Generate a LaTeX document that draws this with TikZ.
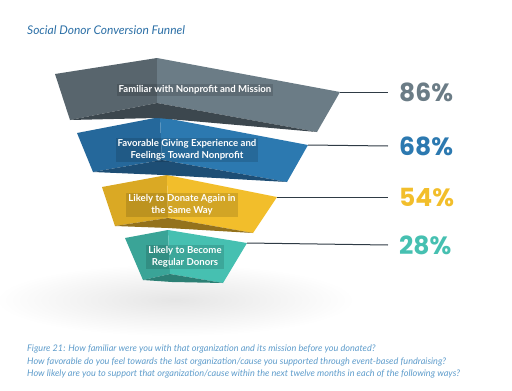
\documentclass[tikz,border=0pt]{standalone}
\usepackage{fontspec}
\setmainfont{Lato}
\newfontfamily\pctfont{Poppins}
\usetikzlibrary{positioning}
\definecolor{grayR}{HTML}{6B7C86}
\definecolor{grayL}{HTML}{58656D}
\definecolor{grayD}{HTML}{3C474E}
\definecolor{blueR}{HTML}{2C79B0}
\definecolor{blueL}{HTML}{25689B}
\definecolor{blueD}{HTML}{1D4E75}
\definecolor{yellR}{HTML}{F2BE2B}
\definecolor{yellL}{HTML}{DAA924}
\definecolor{yellD}{HTML}{94721C}
\definecolor{tealR}{HTML}{46C0B1}
\definecolor{tealL}{HTML}{3AA497}
\definecolor{tealD}{HTML}{2C8075}
\definecolor{titleblue}{HTML}{2B6FA6}
\definecolor{capblue}{HTML}{5E9CCB}
\definecolor{leadcol}{HTML}{2F3B45}
\tikzstyle{facetext} = [text=white,font=\bfseries\fontsize{9.6}{12}\selectfont,align=center,fill=black,fill opacity=0.13,text opacity=1,inner sep=2pt]
\tikzstyle{pct} = [font=\pctfont\bfseries\fontsize{25}{25}\selectfont,anchor=west,inner sep=0pt]
\tikzstyle{leader} = [line width=1pt,draw=leadcol]

\begin{document}
\begin{tikzpicture}[x=1pt,y=-1pt]
	\useasboundingbox (0,0) rectangle (512,391);
	% shadow under the funnel
	\shade[inner color=black!10,outer color=white] (175,300) ellipse (180 and 36);
	% corners of the four layers
	\coordinate (d_lt) at (125,238); \coordinate (d_p) at (168,230); \coordinate (d_rt) at (247,243);
	\coordinate (d_lb) at (143,280); \coordinate (d_c) at (170,274); \coordinate (d_rb) at (223,283); \coordinate (d_b) at (172,282);
	\coordinate (c_lt) at (102,187); \coordinate (c_p) at (167,175); \coordinate (c_rt) at (277,197);
	\coordinate (c_lb) at (115,226); \coordinate (c_c) at (168,218); \coordinate (c_rb) at (253,233); \coordinate (c_b) at (168,228);
	\coordinate (b_lt) at (77,133); \coordinate (b_p) at (160,117); \coordinate (b_rt) at (308,145);
	\coordinate (b_lb) at (93,172); \coordinate (b_c) at (162,160); \coordinate (b_rb) at (287,182); \coordinate (b_b) at (163,175);
	\coordinate (a_lt) at (55,74); \coordinate (a_p) at (157,58); \coordinate (a_rt) at (340,92);
	\coordinate (a_lb) at (70,120); \coordinate (a_c) at (157,103); \coordinate (a_rb) at (317,132); \coordinate (a_b) at (157,118);
	% layers, bottom one first
	\fill[tealL] (d_lt) -- (d_p) -- (d_c) -- (d_lb) -- cycle;
	\fill[tealR] (d_p) -- (d_rt) -- (d_rb) -- (d_c) -- cycle;
	\fill[tealD] (d_lb) -- (d_c) -- (d_rb) -- (d_b) -- cycle;
	\fill[yellL] (c_lt) -- (c_p) -- (c_c) -- (c_lb) -- cycle;
	\fill[yellR] (c_p) -- (c_rt) -- (c_rb) -- (c_c) -- cycle;
	\fill[yellD] (c_lb) -- (c_c) -- (c_rb) -- (c_b) -- cycle;
	\fill[blueL] (b_lt) -- (b_p) -- (b_c) -- (b_lb) -- cycle;
	\fill[blueR] (b_p) -- (b_rt) -- (b_rb) -- (b_c) -- cycle;
	\fill[blueD] (b_lb) -- (b_c) -- (b_rb) -- (b_b) -- cycle;
	\fill[grayL] (a_lt) -- (a_p) -- (a_c) -- (a_lb) -- cycle;
	\fill[grayR] (a_p) -- (a_rt) -- (a_rb) -- (a_c) -- cycle;
	\fill[grayD] (a_lb) -- (a_c) -- (a_rb) -- (a_b) -- cycle;
	% texts on the layers
	\node[facetext] (t_1) at (195,90) {Familiar with Nonprofit and Mission};
	\node[facetext] (t_2) at (187,150) {Favorable Giving Experience and\\Feelings Toward Nonprofit};
	\node[facetext] (t_3) at (182,205) {Likely to Donate Again in\\the Same Way};
	\node[facetext] (t_4) at (185,257) {Likely to Become\\Regular Donors};
	% percentages
	\node[pct,text=grayR] (p_1) at (399,92) {86\%};
	\node[pct,text=blueR] (p_2) at (399,146) {68\%};
	\node[pct,text=yellR] (p_3) at (399,197) {54\%};
	\node[pct,text=tealR] (p_4) at (399,245) {28\%};
	\draw[leader] (a_rt) -- ([xshift=-11pt]p_1.west);
	\draw[leader] (b_rt) -- ([xshift=-11pt]p_2.west);
	\draw[leader] (c_rt) -- ([xshift=-11pt]p_3.west);
	\draw[leader] (d_rt) -- ([xshift=-11pt]p_4.west);
	% title and caption
	\node[anchor=west,inner sep=0pt,text=titleblue,font=\itshape\fontsize{12}{14}\selectfont] (title) at (27,30) {Social Donor Conversion Funnel};
	\node[anchor=north west,inner sep=0pt,align=left,text=capblue,font=\itshape\fontsize{9.1}{12.4}\selectfont] (caption) at (27,345) {Figure 21: How familiar were you with that organization and its mission before you donated?\\How favorable do you feel towards the last organization/cause you supported through event-based fundraising?\\How likely are you to support that organization/cause within the next twelve months in each of the following ways?};
\end{tikzpicture}
\end{document}
